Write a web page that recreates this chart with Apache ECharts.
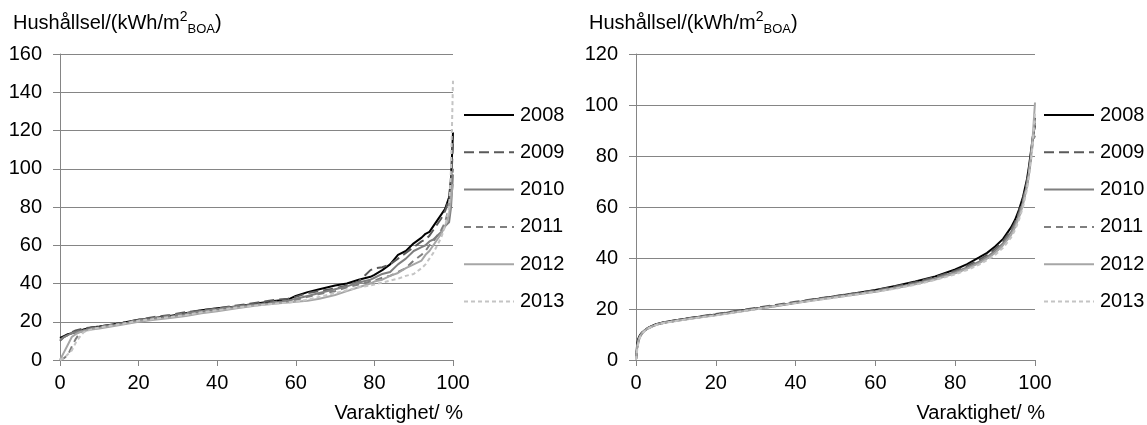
<!DOCTYPE html>
<html>
<head>
<meta charset="utf-8">
<script src="https://cdn.jsdelivr.net/npm/echarts@6/dist/echarts.min.js"></script>
<style>
  html, body { margin: 0; padding: 0; background: #fff; }
  #chart { width: 1147px; height: 425px; }
</style>
</head>
<body>
<div id="chart"></div>
<script>
// Household electricity duration curves, 2008–2013, two building groups.
const years = ['2008', '2009', '2010', '2011', '2012', '2013'];

// Left panel: duration (%) positions and values (kWh/m2 BOA)
const leftX = [0, 1, 2, 3, 4, 5, 6, 8, 10, 13, 16, 20, 24, 28, 32, 36, 40, 45, 50, 55, 58, 60,
  63, 66, 70, 73, 76, 79, 80, 82, 84, 86, 88, 90, 92, 93, 94, 95, 96, 97, 98, 99, 99.5, 100];
const left2008 = [11.5, 12.5, 13.5, 14, 14.5, 15, 16, 17, 17.5, 18.5, 19.5, 21, 22, 23, 24.5, 26, 27, 28, 29.5, 31, 31.5, 33.5,
  35.5, 37, 39, 40, 42, 43.5, 44.5, 47, 50, 55, 57, 61, 64, 66, 67, 70, 73, 76, 79, 85, 95, 119];
const left2009 = [10, 12, 13, 14.5, 15.5, 16, 16.5, 17, 17.5, 18.5, 19.5, 21, 22.5, 23.5, 25, 26, 27, 28.5, 30, 31.5, 32, 33,
  35, 36, 37.5, 39, 41, 47, 48, 48.5, 50, 53, 56, 59, 62, 63, 65, 68, 71, 74, 78, 84, 92, 113];
const left2010 = [10.5, 12, 13, 14, 14.5, 15, 15.5, 16.5, 17, 18, 19, 20.5, 21.5, 22.5, 24, 25.5, 26.5, 28, 29, 30, 31, 32,
  33.5, 35, 37, 38.5, 40.5, 42, 43, 45, 46, 50, 53, 57, 59, 60, 62, 63, 65, 67, 70, 72, 80, 97];
const left2011 = [0, 1, 2.5, 7, 11, 14, 15.5, 16.5, 17, 18, 19, 21, 22, 23, 24.5, 25.5, 26.5, 28, 29, 30.5, 31, 31.5,
  33, 34.5, 36, 38, 39.5, 41, 41.5, 43, 44, 46, 48, 52, 55, 57, 60, 62, 65, 68, 72, 80, 90, 100];
const left2012 = [0, 4, 8, 12, 13.5, 14.5, 15, 16, 16.5, 17.5, 18.5, 20, 21, 22, 23, 24.5, 25.5, 27, 28.5, 29.5, 30, 30.5,
  31, 32, 34, 36, 38, 40, 41, 42, 44, 45.5, 48, 50, 52, 55, 57, 60, 63, 66, 70, 76, 85, 92];
const left2013 = [0, 1, 3, 5, 9, 12, 14.5, 16, 17, 18, 19, 20.5, 21.5, 22.5, 23.5, 25, 26, 27.5, 28.5, 29.5, 30, 30.5,
  31.5, 33, 35, 36.5, 38, 39, 39.5, 40.5, 41.5, 42.5, 44, 45, 48, 50, 53, 56, 60, 64, 70, 80, 100, 146];

// Right panel
const rightX = [0, 0.3, 0.6, 1, 1.5, 2, 3, 4, 5, 7, 10, 15, 20, 25, 30, 35, 40, 45, 50, 55, 60, 65, 70, 75,
  80, 83, 86, 88, 90, 92, 94, 95, 96, 97, 98, 98.5, 99, 99.5, 100];
const right2008 = [0, 6.5, 8.5, 9.8, 10.8, 11.5, 12.6, 13.4, 14.0, 14.8, 15.6, 16.8, 17.8, 19.0, 20.2, 21.3, 22.5, 23.8, 25.0, 26.2, 27.5, 29.0, 30.8, 32.8,
  35.5, 37.6, 40.2, 42.0, 44.5, 47.5, 52.0, 55.0, 59.0, 64.0, 71.0, 76.0, 82.0, 88.0, 92.0];
const right2009 = [0, 5.0, 7.5, 9.2, 10.4, 11.3, 12.5, 13.3, 13.9, 14.8, 15.6, 16.9, 18.0, 19.2, 20.4, 21.6, 22.8, 24.0, 25.1, 26.2, 27.4, 28.8, 30.5, 32.5,
  35.0, 36.9, 39.3, 41.2, 43.6, 46.6, 51.0, 54.0, 58.0, 63.0, 70.0, 75.0, 81.0, 88.0, 95.0];
const right2010 = [0, 5.5, 7.8, 9.5, 10.6, 11.4, 12.4, 13.2, 13.8, 14.6, 15.4, 16.6, 17.6, 18.8, 20.0, 21.2, 22.4, 23.6, 24.8, 25.9, 27.0, 28.4, 30.0, 32.0,
  34.5, 36.3, 38.6, 40.4, 42.8, 45.8, 50.2, 53.2, 57.0, 62.0, 69.0, 74.0, 80.0, 87.0, 93.0];
const right2011 = [0, 4.5, 7.0, 9.0, 10.3, 11.2, 12.3, 13.1, 13.7, 14.6, 15.4, 16.6, 17.7, 18.9, 20.1, 21.3, 22.5, 23.6, 24.7, 25.8, 26.9, 28.3, 29.9, 31.8,
  34.2, 36.0, 38.2, 40.0, 42.3, 45.2, 49.5, 52.5, 56.5, 61.5, 68.5, 73.5, 79.0, 86.0, 88.0];
const right2012 = [0, 5.0, 7.4, 9.3, 10.5, 11.3, 12.4, 13.2, 13.8, 14.6, 15.3, 16.5, 17.5, 18.7, 19.9, 21.1, 22.3, 23.5, 24.6, 25.7, 26.8, 28.1, 29.7, 31.6,
  34.0, 35.8, 38.0, 39.8, 42.0, 45.0, 49.0, 52.0, 56.0, 61.0, 68.0, 73.0, 80.0, 89.0, 101.0];
const right2013 = [0, 4.0, 6.8, 8.8, 10.2, 11.1, 12.3, 13.1, 13.7, 14.5, 15.3, 16.5, 17.5, 18.7, 19.9, 21.1, 22.3, 23.4, 24.5, 25.6, 26.7, 28.0, 29.5, 31.4,
  33.6, 35.3, 37.4, 39.2, 41.2, 44.0, 48.0, 51.0, 55.0, 60.0, 67.0, 72.0, 78.0, 86.0, 97.0];

const leftValues = [left2008, left2009, left2010, left2011, left2012, left2013];
const rightValues = [right2008, right2009, right2010, right2011, right2012, right2013];

// Line look per year
const lineStyles = [
  { color: '#000000', type: 'solid' },
  { color: '#5a5a5a', type: [10, 5] },
  { color: '#7f7f7f', type: 'solid' },
  { color: '#7f7f7f', type: [7, 5] },
  { color: '#a6a6a6', type: 'solid' },
  { color: '#c4c4c4', type: [4, 3] }
];

const FONT = '"Liberation Sans", Arial, sans-serif';
const GRID_COLOR = '#858585';

const panels = [
  { left: 60, width: 393, yMax: 160, xs: leftX, values: leftValues, legendLeft: 463, titleX: 13 },
  { left: 636, width: 399, yMax: 120, xs: rightX, values: rightValues, legendLeft: 1043, titleX: 589 }
];

const chart = echarts.init(document.getElementById('chart'), null, { renderer: 'canvas' });

const grid = [], xAxis = [], yAxis = [], series = [], legend = [], graphic = [];

panels.forEach((p, pi) => {
  grid.push({ left: p.left, top: 54, width: p.width, height: 306 });
  xAxis.push({
    type: 'value', gridIndex: pi, min: 0, max: 100, interval: 20,
    axisLine: { show: true, lineStyle: { color: GRID_COLOR, width: 1 } },
    axisTick: { show: true, length: 6, lineStyle: { color: GRID_COLOR } },
    axisLabel: { color: '#000', fontFamily: FONT, fontSize: 20, margin: 13 },
    splitLine: { show: false }
  });
  yAxis.push({
    type: 'value', gridIndex: pi, min: 0, max: p.yMax, interval: 20,
    axisLine: { show: true, lineStyle: { color: GRID_COLOR, width: 1 } },
    axisTick: { show: true, length: 7, lineStyle: { color: GRID_COLOR } },
    axisLabel: { color: '#000', fontFamily: FONT, fontSize: 20, margin: 18 },
    splitLine: { show: true, lineStyle: { color: GRID_COLOR, width: 1 } }
  });
  years.forEach((y, i) => {
    series.push({
      name: y, type: 'line', xAxisIndex: pi, yAxisIndex: pi,
      data: p.xs.map((x, k) => [x, p.values[i][k]]),
      showSymbol: false, symbol: 'none', smooth: false,
      lineStyle: { color: lineStyles[i].color, type: lineStyles[i].type, width: 2 },
      itemStyle: { color: lineStyles[i].color },
      emphasis: { disabled: true }
    });
  });
  legend.push({
    orient: 'vertical', left: p.legendLeft, top: 105, padding: 0,
    itemWidth: 50, itemHeight: 20, itemGap: 17.3,
    data: years, selectedMode: false,
    itemStyle: { opacity: 0 },
    textStyle: { color: '#000', fontFamily: FONT, fontSize: 20, lineHeight: 20, padding: [0, 0, 0, 1] }
  });
  graphic.push({
    type: 'text', left: p.titleX, top: 10,
    style: {
      text: '{a|Hushållsel/(kWh/m}{sup|2}{sub|BOA}{a|)}',
      rich: {
        a: { fontFamily: FONT, fontSize: 20, fill: '#000', lineHeight: 26, verticalAlign: 'middle' },
        sup: { fontFamily: FONT, fontSize: 14, fill: '#000', lineHeight: 18, verticalAlign: 'top' },
        sub: { fontFamily: FONT, fontSize: 13, fill: '#000', lineHeight: 14, verticalAlign: 'bottom' }
      }
    }
  });
  graphic.push({
    type: 'text', right: 1147 - (p.left + p.width + 10), top: 403,
    style: { text: 'Varaktighet/ %', fontFamily: FONT, fontSize: 20, fill: '#000' }
  });
});

chart.setOption({
  animation: false,
  backgroundColor: '#ffffff',
  grid, xAxis, yAxis, series, legend, graphic
});
</script>
</body>
</html>
